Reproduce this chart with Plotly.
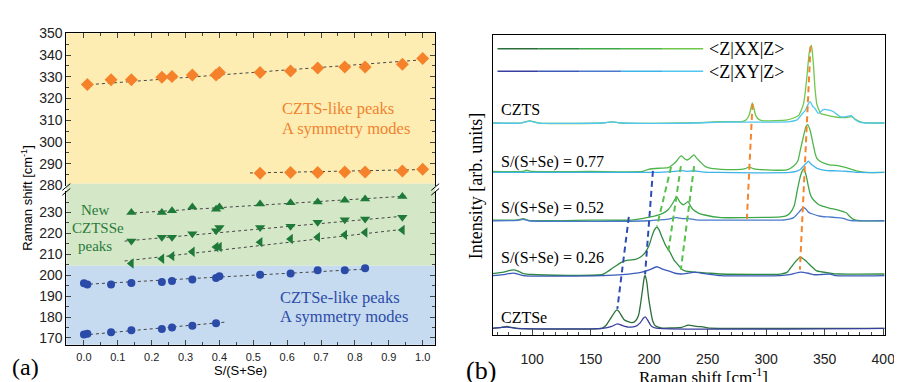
import plotly.graph_objects as go

W, H = 902, 382
SANS = "Liberation Sans, Arial, sans-serif"
SERIF = "Liberation Serif, Times New Roman, serif"

# ---------------- Panel (a) data ----------------
x_czts_hi = [0.01, 0.08, 0.14, 0.23, 0.26, 0.32, 0.39, 0.40, 0.52, 0.61, 0.69, 0.77, 0.83, 0.94, 1.00]
y_czts_hi = [326.4, 328.6, 328.6, 329.8, 330.1, 330.8, 330.8, 332.0, 332.0, 332.7, 334.0, 334.5, 334.5, 335.7, 338.4]
x_czts_lo = [0.52, 0.61, 0.69, 0.77, 0.83, 0.94, 1.00]
y_czts_lo = [285.7, 286.0, 286.0, 286.2, 286.2, 286.7, 287.5]

x_new = [0.14, 0.23, 0.26, 0.32, 0.39, 0.40, 0.52, 0.61, 0.69, 0.77, 0.83, 0.94]
y_new_up = [230.0, 230.0, 230.8, 232.6, 231.5, 232.6, 234.1, 234.6, 235.0, 235.8, 236.4, 237.6]
y_new_down = [216.3, 218.1, 218.1, 219.8, 221.3, 222.8, 222.8, 223.4, 225.3, 226.5, 226.9, 227.7]
y_new_left = [205.6, 207.9, 209.1, 211.2, 213.5, 213.5, 215.8, 217.3, 218.2, 219.3, 220.4, 221.6]

x_cztse_hi = [0.00, 0.01, 0.08, 0.14, 0.23, 0.26, 0.32, 0.39, 0.40, 0.52, 0.61, 0.69, 0.77, 0.83]
y_cztse_hi = [196.1, 195.6, 195.6, 196.3, 196.7, 197.2, 197.9, 198.7, 199.5, 200.2, 200.8, 202.4, 202.4, 203.3]
x_cztse_lo = [0.00, 0.01, 0.08, 0.14, 0.23, 0.26, 0.32, 0.39]
y_cztse_lo = [171.7, 172.0, 172.7, 173.7, 174.3, 175.0, 175.8, 177.0]

# dotted guide lines (end points)
fit_czts_hi_x, fit_czts_hi_y = [0.0, 1.0], [326.2, 337.8]
fit_czts_lo_x, fit_czts_lo_y = [0.49, 1.01], [285.8, 287.4]
fit_up_x, fit_up_y = [0.13, 0.95], [229.6, 237.8]
fit_down_x, fit_down_y = [0.12, 0.94], [216.3, 228.2]
fit_left_x, fit_left_y = [0.12, 0.94], [206.8, 221.9]
fit_cztse_hi_x, fit_cztse_hi_y = [0.0, 0.84], [195.6, 203.0]
fit_cztse_lo_x, fit_cztse_lo_y = [0.0, 0.42], [171.4, 177.6]

# ---------------- Panel (b) data (intensity above each baseline, arb. units) ----------------
czts_xx_x = [66, 90, 98, 106, 160, 168.5, 176, 240, 260, 280, 283, 285.4, 288.2, 291, 294, 298, 318, 324, 327.7, 331.9, 334.5, 337, 338.7, 340.4, 341.8, 343.2, 344.6, 346.5, 351.6, 357.3, 362.9, 368.5, 372.8, 377, 380, 383, 401]
czts_xx_y = [0, 0, 2.3, 0, 0, 1.2, 0, 0.5, 1.3, 1.8, 3.5, 8, 21, 8, 3.5, 2.3, 3.3, 5.5, 8, 20, 45, 75, 81, 60, 35, 20, 15, 10, 8.3, 6.7, 5.7, 5.7, 6.7, 3.3, 1.5, 0.5, 0]
czts_xy_x = [66, 90, 98, 106, 160, 168.5, 176, 240, 260, 300, 320, 326.3, 331, 333.3, 336, 337.6, 339.5, 341.8, 344.6, 348.8, 351.6, 357.3, 362.9, 368.5, 372.8, 375.6, 379.8, 385, 401]
czts_xy_y = [0, 0, 2, 0, 0, 1.2, 0, 0, 1, 1, 1.5, 3.3, 10, 13, 20, 22.4, 18, 15, 10, 14, 14, 12, 6.7, 6.7, 7.7, 4, 1, 0, 0]

s77_xx_x = [66, 92, 95.3, 100, 150, 194, 199.5, 210, 216.4, 220, 223.5, 226, 227.7, 230, 232.5, 235, 238.4, 240.5, 243.2, 247, 250.2, 261.5, 278.4, 282, 285.4, 289, 292.5, 317.8, 323.5, 327, 329.1, 331.9, 334, 335.5, 337.5, 339.5, 341.8, 343.2, 346, 348.8, 354, 360.1, 368.5, 372.8, 377, 385.4, 401]
s77_xx_y = [1, 1, 2.3, 1, 1, 1, 3.3, 4.5, 5, 8, 12, 16, 17.3, 14.5, 13, 15, 18.3, 15, 11.7, 7, 5, 3.3, 3.3, 4, 5.6, 4, 3.3, 2.7, 6.7, 12, 23, 38, 48, 50, 44, 33, 20, 15, 11.7, 10, 8, 7.3, 5, 3.3, 1.7, 0, 0]
s77_xy_x = [66, 200, 216, 223.5, 227.7, 232, 238, 245, 260, 320, 326.3, 329.1, 333, 336.1, 338, 340.4, 343, 346, 352, 360, 370, 380, 401]
s77_xy_y = [0, 0, 0.7, 1.3, 2, 1.2, 1.8, 0.7, 0, 0, 1.5, 3, 8, 11.7, 9, 6.7, 4.5, 3.3, 2, 1.7, 1, 0, 0]

s52_xx_x = [66, 88, 92.5, 97, 150, 185, 194, 205.2, 212, 216.4, 220, 223.5, 226, 229.1, 231, 233.3, 235.5, 237.5, 242, 247.4, 261.5, 284, 312.2, 317, 320.6, 324, 326.3, 328.5, 330.5, 332, 334, 336, 337.6, 339.5, 341.8, 345, 348.8, 354.5, 360.1, 366, 368.5, 371, 374.2, 380, 401]
s52_xx_y = [0.7, 1, 2.3, 0.5, 0.7, 0.7, 2.3, 5, 8, 11.7, 18, 25, 20, 16.7, 18, 20, 15, 11.7, 8, 6, 3.3, 3.3, 4, 5, 8.3, 16, 30, 43, 51, 54, 48, 36, 28, 23, 20, 16.7, 15, 13, 11.7, 9.5, 8.3, 5, 1.7, 0, 0]
s52_xy_x = [66, 88, 92.5, 97, 200, 205.2, 215, 223.5, 228, 233.3, 240, 247, 300, 316, 323.5, 328, 331.9, 334, 336, 339, 346, 353, 360.1, 366, 368.5, 374, 401]
s52_xy_y = [0, 0.5, 1.5, 0, 0, 0.7, 1.5, 3.3, 2.3, 2.3, 1, 0.7, 0.7, 1, 3.3, 9, 14, 12, 9, 7.3, 4.7, 4, 3.3, 2.5, 1.3, 0, 0]

s26_xx_x = [66, 75.6, 80, 84, 88, 92.5, 100, 160.1, 165, 168.5, 172.8, 177, 182, 188.2, 193, 196.7, 200, 202.3, 204.5, 206.6, 208.5, 210.8, 214, 217.8, 221, 224.9, 228, 230.5, 239, 245, 250.2, 261.5, 312.2, 317.8, 320.6, 324.9, 329.1, 333.3, 336.1, 340.4, 343.2, 354.5, 362, 401]
s26_xx_y = [0.5, 2, 3.5, 4.3, 3, 0.5, -0.5, -0.5, 3, 6, 9.5, 12.7, 14.5, 15.3, 18, 22.7, 30, 39, 46, 49, 46, 39, 30, 22.7, 15, 9.3, 5, 3.3, 2, 1.5, 1, 0, 0, 1.7, 6, 12.7, 17.7, 14.3, 11, 6, 3.3, 1, 0, 0]
s26_xy_x = [66, 75, 84, 92.5, 160, 177, 193.9, 200, 206.6, 211, 216.4, 222, 227.7, 233, 239, 244, 250.2, 261.5, 312, 320, 329.1, 336, 340.4, 347, 354.5, 360, 401]
s26_xy_y = [0, 1, 2.7, 0, 0, 1, 3.7, 6, 9.3, 7, 5, 2.5, 1.7, 2.5, 3.7, 2.7, 1.7, 0, 0, 1, 3.7, 2.5, 1, 1.2, 1.7, 0, 0]

cztse_xx_x = [66, 74, 78.4, 82, 86.8, 160.1, 163, 165.7, 169, 171.5, 172.8, 174.5, 178.4, 182, 185.4, 188.5, 191, 192.5, 194.3, 196, 196.7, 198, 199.5, 200.9, 203, 205.2, 210, 227.7, 233.3, 240, 244.6, 250, 260, 401]
cztse_xx_y = [0, 1, 2, 1, 0, 0.3, 3, 7.7, 14, 18.5, 19.3, 17, 9.3, 7, 6, 8, 14, 24.3, 40, 54, 55, 48, 32, 21, 8, 2.7, 0.5, 1, 3.3, 2, 1.7, 0.5, 0, 0]
cztse_xy_x = [66, 78.4, 86.8, 160, 168, 172.8, 177, 182.7, 188.2, 192.5, 195, 196.7, 198.5, 200.9, 202.3, 206, 401]
cztse_xy_y = [0, 1.3, 0, 0, 2, 4.7, 3, 1.3, 2, 6, 10.5, 12, 9, 4, 2, 0.3, 0]

# baselines (vertical offsets) of the stacked spectra
base_czts, base_77, base_52, base_26_xx, base_26_xy, base_cztse = 221.0, 169.4, 119.0, 63.4, 61.7, 6.7

# dashed guide lines in panel (b): [x0, x1], [y0, y1]
dash_blue = [([182.6, 172.8], [123, 27]), ([203.2, 196.5], [171, 63])]
dash_green = [([218.7, 206.6], [175, 113]), ([227.1, 216.4], [176, 87]), ([238.4, 227.1], [176, 68])]
dash_orange = [([288.3, 283.5], [241, 121]), ([337.9, 328.8], [301, 68])]

# colours
C_OR, C_GR, C_BL = "#F5822A", "#1F7A3A", "#2B4BA8"
XX_COLS = ["#2C6E3A", "#2E8A41", "#3DA748", "#4FB74A", "#6FC74C"]   # CZTSe -> CZTS
XY_COLS = ["#3A3E9E", "#3B5BB8", "#4A78CC", "#3FB3E8", "#50C6F0"]

def pyp(y):
    return 1 - y / H

def pxp(x):
    return x / W

fig = go.Figure()

# ---------- panel (a) traces ----------
def dotted(x, y, xa, ya):
    fig.add_trace(go.Scatter(x=x, y=y, mode="lines", xaxis=xa, yaxis=ya,
                             line=dict(color="#444", width=1, dash="dot"), hoverinfo="skip"))

dotted(fit_czts_hi_x, fit_czts_hi_y, "x2", "y2")
dotted(fit_czts_lo_x, fit_czts_lo_y, "x2", "y2")
for fx, fy in [(fit_up_x, fit_up_y), (fit_down_x, fit_down_y), (fit_left_x, fit_left_y),
               (fit_cztse_hi_x, fit_cztse_hi_y), (fit_cztse_lo_x, fit_cztse_lo_y)]:
    dotted(fx, fy, "x", "y")

def pts(x, y, xa, ya, sym, col, size):
    fig.add_trace(go.Scatter(x=x, y=y, mode="markers", xaxis=xa, yaxis=ya,
                             marker=dict(symbol=sym, color=col, size=size, line=dict(width=0))))

pts(x_czts_hi, y_czts_hi, "x2", "y2", "diamond", C_OR, 10)
pts(x_czts_lo, y_czts_lo, "x2", "y2", "diamond", C_OR, 10)
pts(x_new, y_new_up, "x", "y", "triangle-up", C_GR, 9)
pts(x_new, y_new_down, "x", "y", "triangle-down", C_GR, 9)
pts(x_new, y_new_left, "x", "y", "triangle-left", C_GR, 9)
pts(x_cztse_hi, y_cztse_hi, "x", "y", "circle", C_BL, 8)
pts(x_cztse_lo, y_cztse_lo, "x", "y", "circle", C_BL, 8)

# ---------- panel (b) traces ----------
spectra = [
    (cztse_xx_x, cztse_xx_y, base_cztse, XX_COLS[0], cztse_xy_x, cztse_xy_y, base_cztse, XY_COLS[0]),
    (s26_xx_x, s26_xx_y, base_26_xx, XX_COLS[1], s26_xy_x, s26_xy_y, base_26_xy, XY_COLS[1]),
    (s52_xx_x, s52_xx_y, base_52, XX_COLS[2], s52_xy_x, s52_xy_y, base_52, XY_COLS[2]),
    (s77_xx_x, s77_xx_y, base_77, XX_COLS[3], s77_xy_x, s77_xy_y, base_77, XY_COLS[3]),
    (czts_xx_x, czts_xx_y, base_czts, XX_COLS[4], czts_xy_x, czts_xy_y, base_czts, XY_COLS[4]),
]
for xx_x, xx_y, bxx, cxx, xy_x, xy_y, bxy, cxy in spectra:
    fig.add_trace(go.Scatter(x=xx_x, y=[v + bxx for v in xx_y], mode="lines", xaxis="x3", yaxis="y3",
                             line=dict(color=cxx, width=1.3, shape="spline", smoothing=0.6)))
    fig.add_trace(go.Scatter(x=xy_x, y=[v + bxy for v in xy_y], mode="lines", xaxis="x3", yaxis="y3",
                             line=dict(color=cxy, width=1.3, shape="spline", smoothing=0.6)))

for group, col in [(dash_blue, "#2E4DB2"), (dash_green, "#55C04A"), (dash_orange, "#F5842C")]:
    for dx, dy in group:
        fig.add_trace(go.Scatter(x=dx, y=dy, mode="lines", xaxis="x3", yaxis="y3",
                                 line=dict(color=col, width=2, dash="6px,4px")))

# ---------- shapes ----------
shapes = []
x0a, x1a = pxp(59), pxp(432)
for top, bot, col in [(18, 175, "#FEEDB3"), (175, 260.7, "#D4E8C8"), (260.7, 343, "#C6DAF0")]:
    shapes.append(dict(type="rect", xref="paper", yref="paper", x0=x0a, x1=x1a,
                       y0=pyp(bot), y1=pyp(top), fillcolor=col, line=dict(width=0), layer="below"))
# axis-break marks
for xc in (59, 432):
    for dy in (0, 5):
        shapes.append(dict(type="line", xref="paper", yref="paper",
                           x0=pxp(xc - 4), y0=pyp(182 + dy), x1=pxp(xc + 4), y1=pyp(175 + dy),
                           line=dict(color="black", width=1)))
# gradient legend lines
seg = (703 - 495) / 5
for i in range(5):
    for yy, cols in [(34.3, XX_COLS), (57.7, XY_COLS)]:
        shapes.append(dict(type="line", xref="paper", yref="paper",
                           x0=pxp(495 + i * seg), x1=pxp(495 + (i + 1) * seg), y0=pyp(yy), y1=pyp(yy),
                           line=dict(color=cols[i], width=1.5)))

# ---------- annotations ----------
ann = []
def txt(x, y, s, size, col="black", font=SERIF, xanchor="left", angle=0):
    ann.append(dict(x=pxp(x), y=pyp(y), xref="paper", yref="paper", text=s, showarrow=False,
                    xanchor=xanchor, yanchor="middle", textangle=angle,
                    font=dict(family=font, size=size, color=col)))

txt(275, 97, "CZTS-like peaks", 16.5, "#F0832E")
txt(275, 117, "A symmetry modes", 16.5, "#F0832E")
txt(88, 202, "New", 15, "#2A7A3A", xanchor="center")
txt(91, 221, "CZTSSe", 15, "#2A7A3A", xanchor="center")
txt(88, 240, "peaks", 15, "#2A7A3A", xanchor="center")
txt(273, 294, "CZTSe-like peaks", 16.5, "#2C4CA8")
txt(273, 314, "A symmetry modes", 16.5, "#2C4CA8")
txt(2, 366, "(a)", 24)
txt(235, 370, "S/(S+Se)", 13, font=SANS, xanchor="center")
txt(19, 190, "Raman shift [cm<sup>-1</sup>]", 13, font=SANS, xanchor="center", angle=-90)

txt(707, 34, "&lt;Z|XX|Z&gt;", 18)
txt(707, 58, "&lt;Z|XY|Z&gt;", 18)
txt(496, 98, "CZTS", 16)
txt(496, 152, "S/(S+Se) = 0.77", 16)
txt(496, 200, "S/(S+Se) = 0.52", 16)
txt(496, 253, "S/(S+Se) = 0.26", 16)
txt(496, 315, "CZTSe", 16)
txt(461, 370, "(b)", 26)
txt(703, 376, "Raman shift [cm<sup>-1</sup>]", 17, xanchor="center")
txt(473, 178, "Intensity [arb. units]", 18, xanchor="center", angle=-90)

axcommon = dict(showgrid=False, zeroline=False, showline=True, linecolor="black", linewidth=1)

fig.update_layout(
    width=W, height=H, margin=dict(l=0, r=0, t=0, b=0),
    paper_bgcolor="white", plot_bgcolor="rgba(0,0,0,0)", showlegend=False,
    shapes=shapes, annotations=ann,
    xaxis=dict(**axcommon, domain=[x0a, x1a], range=[-0.052, 1.037], anchor="y",
               ticks="inside", ticklen=5, tick0=0, dtick=0.1, tickformat=".1f",
               minor=dict(ticks="inside", ticklen=3, tick0=0, dtick=0.05),
               tickfont=dict(family=SANS, size=11, color="#222"), ticklabelstandoff=2),
    xaxis2=dict(**axcommon, domain=[x0a, x1a], range=[-0.052, 1.037], anchor="y2", side="top",
                matches="x", ticks="inside", ticklen=5, tick0=0, dtick=0.1, showticklabels=False,
                minor=dict(ticks="inside", ticklen=3, tick0=0, dtick=0.05)),
    yaxis=dict(**axcommon, domain=[pyp(343), pyp(183)], range=[166.8, 240.1], anchor="x",
               mirror="ticks", ticks="inside", ticklen=5,
               tickvals=[170, 180, 190, 200, 210, 220, 230],
               minor=dict(ticks="inside", ticklen=3, tick0=0, dtick=5),
               tickfont=dict(family=SANS, size=14, color="#222")),
    yaxis2=dict(**axcommon, domain=[pyp(177), pyp(18)], range=[280, 350], anchor="x2",
                mirror="ticks", ticks="inside", ticklen=5, tick0=280, dtick=10,
                minor=dict(ticks="inside", ticklen=3, tick0=0, dtick=5),
                tickfont=dict(family=SANS, size=14, color="#222")),
    xaxis3=dict(**axcommon, domain=[pxp(490), pxp(886.7)], range=[66.2, 401.4], anchor="y3",
                mirror=True, ticks="inside", ticklen=6, tickvals=[100, 150, 200, 250, 300, 350, 400],
                minor=dict(ticks="inside", ticklen=3, tick0=0, dtick=10),
                tickfont=dict(family=SANS, size=14, color="#222"), ticklabelstandoff=11),
    yaxis3=dict(**axcommon, domain=[pyp(332.7), pyp(20)], range=[0, 312.7], anchor="x3",
                mirror=True, ticks="", showticklabels=False),
)

fig.write_html("out.html")
